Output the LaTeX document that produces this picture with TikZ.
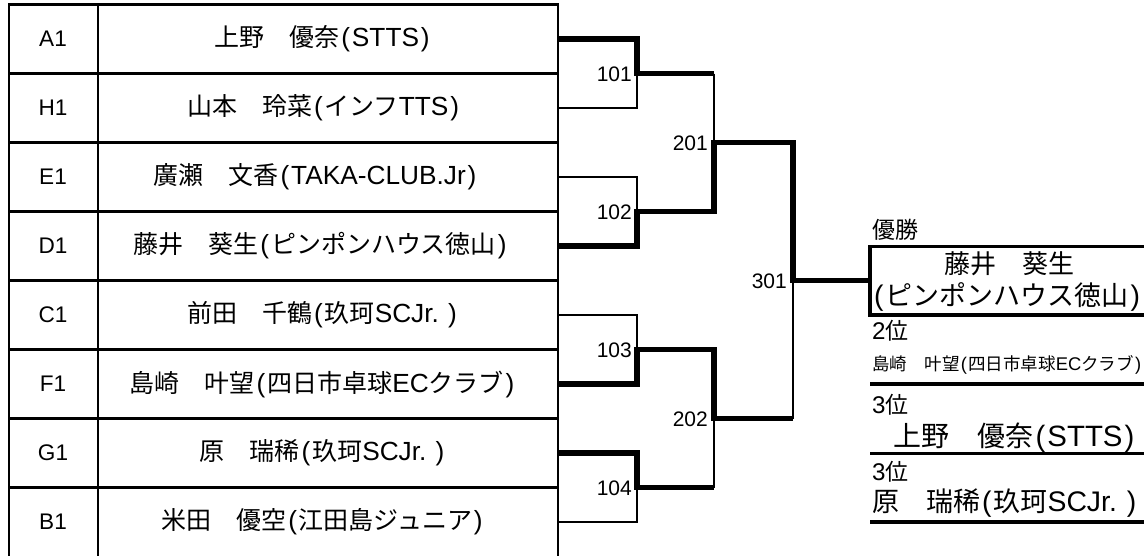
\documentclass[tikz,border=0pt]{standalone}
\usepackage{fontspec}
\setmainfont{Noto Sans CJK JP}
\newfontfamily\lat{Liberation Sans}[Scale=1.05]
\newcommand\myfs[1]{\fontsize{#1}{#1}\selectfont}
\newcommand\LP{{\lat\kern0.07em(\kern0.07em}}
\newcommand\RP{{\lat\kern0.07em)\kern0.07em}}
\begin{document}
\begin{tikzpicture}[x=1pt,y=-1pt,
  gridline/.style={line width=2.8pt, line cap=rect},
  thinw/.style={line width=2.4pt, line join=miter},
  thickw/.style={line width=5.8pt, line join=miter},
  boxw/.style={line width=3.5pt},
  sepw/.style={line width=3.2pt},
  idtxt/.style={inner sep=0pt, font=\myfs{21.5}\lat},
  nametxt/.style={inner sep=0pt, font=\myfs{25}},
  numtxt/.style={inner sep=0pt, anchor=east, font=\myfs{20}\lat},
  ranktxt/.style={inner sep=0pt, anchor=west, font=\myfs{23}},
  rnametxt/.style={inner sep=0pt, font=\myfs{26}},
  smalltxt/.style={inner sep=0pt, anchor=west, font=\myfs{17.5}}]
\useasboundingbox (0,0) rectangle (1144,555);
\fill[white] (0,0) rectangle (1144,555);

% table
\foreach \yy in {4.5,73.5,142.5,211.5,280.5,349.5,418.5,487.5}
  \draw[gridline] (9,\yy) -- (558,\yy);
\foreach \xx in {9,98,558}
  \draw[gridline] (\xx,4.5) -- (\xx,556);

\node[idtxt] (id1) at (53,39) {A1};
\node[idtxt] (id2) at (53,108) {H1};
\node[idtxt] (id3) at (53,177) {E1};
\node[idtxt] (id4) at (53,246) {D1};
\node[idtxt] (id5) at (53,315) {C1};
\node[idtxt] (id6) at (53,384) {F1};
\node[idtxt] (id7) at (53,453) {G1};
\node[idtxt] (id8) at (53,522) {B1};

\node[nametxt] (n1) at (323,39) {上野　優奈\LP{\lat STTS}\RP};
\node[nametxt] (n2) at (324,108) {山本　玲菜\LP インフ{\lat TTS}\RP};
\node[nametxt] (n3) at (316,177) {廣瀬　文香\LP{\lat TAKA-CLUB.Jr}\RP};
\node[nametxt] (n4) at (321,246) {藤井　葵生\LP ピンポンハウス徳山\RP};
\node[nametxt] (n5) at (323,315) {前田　千鶴\LP 玖珂{\lat SCJr.\ }\RP};
\node[nametxt] (n6) at (323,384) {島崎　叶望\LP 四日市卓球{\lat EC}クラブ\RP};
\node[nametxt] (n7) at (323,453) {原　瑞稀\LP 玖珂{\lat SCJr.\ }\RP};
\node[nametxt] (n8) at (323,522) {米田　優空\LP 江田島ジュニア\RP};

% bracket coordinates
\coordinate (pA1) at (558,39);
\coordinate (pH1) at (558,108);
\coordinate (pE1) at (558,177);
\coordinate (pD1) at (558,246);
\coordinate (pC1) at (558,315);
\coordinate (pF1) at (558,384);
\coordinate (pG1) at (558,453);
\coordinate (pB1) at (558,522);
\coordinate (m101) at (637,73.5);
\coordinate (m102) at (637,211.5);
\coordinate (m103) at (637,349.5);
\coordinate (m104) at (637,487.5);
\coordinate (m201) at (714,142.5);
\coordinate (m202) at (714,418.5);
\coordinate (m301) at (793,280.5);
\coordinate (winL) at (870,280.5);

% losing (thin) lines
\draw[thinw] (pH1) -| (m101);
\draw[thinw] (pE1) -| (m102);
\draw[thinw] (pC1) -| (m103);
\draw[thinw] (pB1) -| (m104);
\draw[thinw] (m101 -| m201) -- (m201);
\draw[thinw] (m202) -- (m104 -| m202);
\draw[thinw] (m301) -- (m202 -| m301);

% winning (thick) lines
\draw[thickw] (pA1) -| (m101) -- (m101 -| m201);
\draw[thickw] (pD1) -| (m102) -- (m102 -| m201) -- (m201) -- (m201 -| m301) -- (m301) -- (winL);
\draw[thickw] (pF1) -| (m103) -- (m103 -| m202) -- (m202) -- (m202 -| m301);
\draw[thickw] (pG1) -| (m104) -- (m104 -| m202);

% match numbers
\node[numtxt] (l101) at ([xshift=-5pt,yshift=-1pt]m101) {101};
\node[numtxt] (l102) at ([xshift=-5pt,yshift=-1pt]m102) {102};
\node[numtxt] (l103) at ([xshift=-5pt,yshift=-1pt]m103) {103};
\node[numtxt] (l104) at ([xshift=-5pt,yshift=-1pt]m104) {104};
\node[numtxt] (l201) at ([xshift=-6pt,yshift=-1pt]m201) {201};
\node[numtxt] (l202) at ([xshift=-6pt,yshift=-1pt]m202) {202};
\node[numtxt] (l301) at ([xshift=-6pt,yshift=-1pt]m301) {301};

% results
\node[ranktxt] (r0) at (872,230) {優勝};
\draw[boxw] (1144,246.5) -- (870,246.5) -- (870,315) -- (1144,315);
\node[rnametxt] (w1) at (1009,264) {藤井　葵生};
\node[rnametxt, anchor=west, font=\myfs{27}] (w2) at (872,297) {\LP ピンポンハウス徳山\RP};
\node[ranktxt] (r2) at (872,331) {{\lat 2}位};
\node[smalltxt] (s2) at (872,365) {島崎　叶望\LP 四日市卓球{\lat EC}クラブ\RP};
\draw[sepw] (870,384) -- (1144,384);
\node[ranktxt] (r3a) at (872,405) {{\lat 3}位};
\node[rnametxt, font=\myfs{28}] (s3a) at (1015,438) {上野　優奈\LP{\lat STTS}\RP};
\draw[sepw] (870,453.5) -- (1144,453.5);
\node[ranktxt] (r3b) at (872,472) {{\lat 3}位};
\node[rnametxt, anchor=west, font=\myfs{27}] (s3b) at (872,503) {原　瑞稀\LP 玖珂{\lat SCJr.\ }\RP};
\draw[sepw] (870,522) -- (1144,522);
\end{tikzpicture}
\end{document}
